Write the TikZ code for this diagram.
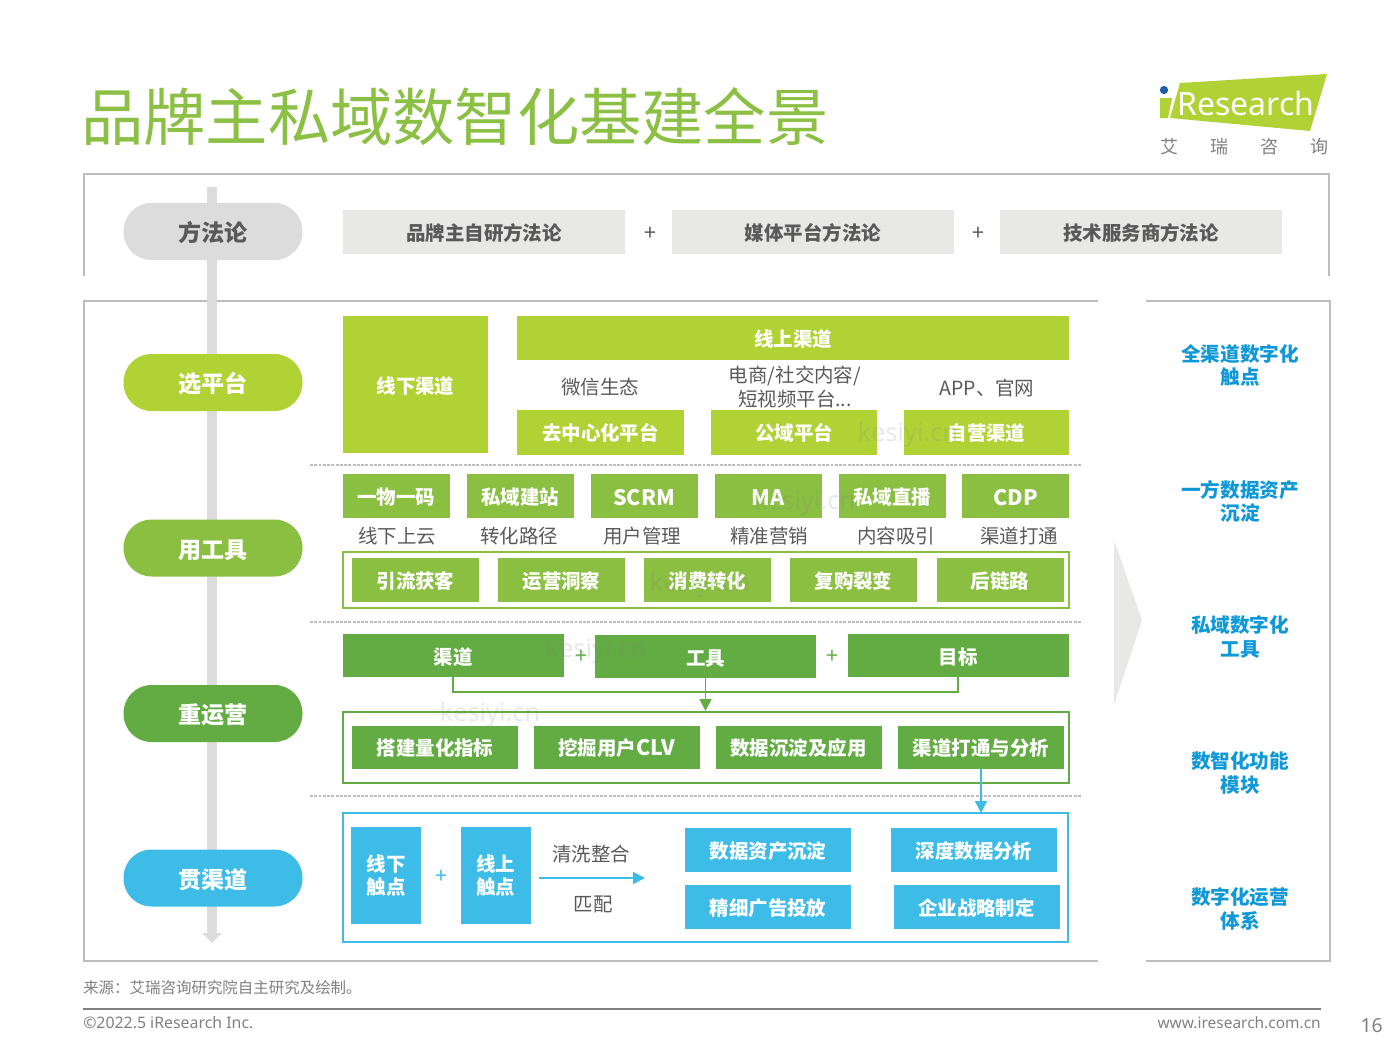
\documentclass[tikz,border=0pt]{standalone}
\usepackage{fontspec}
\setmainfont{Noto Sans CJK SC}
\newfontfamily\latinfont{Noto Sans}
\usetikzlibrary{arrows.meta}
\definecolor{limegreen}{HTML}{B0D235}
\definecolor{midgreen}{HTML}{8ABF41}
\definecolor{deepgreen}{HTML}{62AC43}
\definecolor{skyblue}{HTML}{3DBCE8}
\definecolor{textblue}{HTML}{0F98D8}
\definecolor{titlegreen}{HTML}{8CC045}
\definecolor{framegray}{HTML}{BDBDBD}
\definecolor{boxgray}{HTML}{E8E8E7}
\definecolor{railgray}{HTML}{DCDCDC}
\definecolor{labelgray}{HTML}{595959}
\definecolor{dotblue}{HTML}{1F5FA8}
\tikzset{
size/.style 2 args={minimum width=#1*0.75pt, minimum height=#2*0.75pt}, % sizes in pixels of the reference
box/.style={inner sep=0pt, align=center, text=white, font=\fontsize{14.6}{17}\selectfont\bfseries, execute at begin node={\rule{0pt}{1em}}},
limebox/.style={box, fill=limegreen},
midbox/.style={box, fill=midgreen},
deepbox/.style={box, fill=deepgreen},
bluebox/.style={box, fill=skyblue},
graybox/.style={box, fill=boxgray, text=labelgray, size={282}{44}},
pill/.style={box, font=\fontsize{17.3}{20}\selectfont\bfseries, rounded corners=21pt, size={179}{57}},
note/.style={inner sep=0pt, align=center, text=labelgray, font=\fontsize{14.6}{17.5}\selectfont},
goal/.style={inner sep=0pt, align=center, text=textblue, font=\fontsize{14.7}{17.3}\selectfont\bfseries},
foot/.style={inner sep=0pt, text=gray, font=\fontsize{11.6}{14}\selectfont},
logochar/.style={foot, font=\fontsize{13.5}{15}\selectfont},
frameline/.style={draw=framegray, line width=1.6pt},
cutline/.style={draw=framegray, line width=0.8pt, dash pattern=on 2.2pt off 1pt},
plus/.style={inner sep=0pt, font=\fontsize{16}{18}\selectfont},
wmark/.style={inner sep=0pt, text=gray, opacity=0.18, font=\latinfont\fontsize{19}{22}\selectfont},
}
\newcommand{\latinlabel}[1]{{\fontsize{16}{17}\selectfont #1}}
\begin{document}
\begin{tikzpicture}[x=0.75pt, y=-0.75pt]
    \useasboundingbox (0,0) rectangle (1400,1050);

    % title and logo
    \node[inner sep=0pt, anchor=west, text=titlegreen, font=\fontsize{46.7}{50}\selectfont] (title) at (81,117) {品牌主私域数智化基建全景};
    \fill[limegreen] (1180,83) -- (1327,74) -- (1310,131) -- (1170,118) -- cycle;
    \fill[limegreen] (1160,98) -- (1172,98) -- (1168,118) -- (1160,118) -- cycle;
    \fill[dotblue] (1164,90) circle (3.1pt);
    \node[inner sep=0pt, text=white, font=\latinfont\fontsize{24}{26}\selectfont] (logo) at (1246,103) {Research};
    \node[logochar] (ai) at (1169,147) {艾};
    \node[logochar] (rui) at (1219,147) {瑞};
    \node[logochar] (zi) at (1269,147) {咨};
    \node[logochar] (xun) at (1319,147) {询};

    % outer frames
    \draw[frameline] (84,276) -- (84,174) -- (1329,174) -- (1329,276);
    \draw[frameline] (1098,301) -- (84,301) -- (84,961) -- (1098,961);
    \draw[frameline] (1146,301) -- (1330,301) -- (1330,961) -- (1146,961);
    \coordinate (railtop) at (212,187);
    \coordinate (railend) at (212,943);
    \draw[railgray, line width=7.5pt, -{Triangle[width=14.5pt, length=7.5pt]}] (railtop) -- (railend);
    \fill[boxgray] (1114,540) -- (1142,620) -- (1114,705) -- cycle;
    \draw[cutline] (310,465) -- (1082,465);
    \draw[cutline] (310,622) -- (1082,622);
    \draw[cutline] (310,796) -- (1082,796);

    % left column
    \node[pill, fill=railgray, text=labelgray] (method) at (213,231.5) {方法论};
    \node[pill, fill=limegreen] (choose) at (213,382.5) {选平台};
    \node[pill, fill=midgreen] (tooling) at (213,548) {用工具};
    \node[pill, fill=deepgreen] (operate) at (213,713.5) {重运营};
    \node[pill, fill=skyblue] (connect) at (213,878) {贯渠道};

    % method row
    \node[graybox] (brand) at (484,232) {品牌主自研方法论};
    \node[graybox] (media) at (813,232) {媒体平台方法论};
    \node[graybox] (tech) at (1141,232) {技术服务商方法论};
    \node[plus, text=labelgray] (plusa) at (650,234) {+};
    \node[plus, text=labelgray] (plusb) at (978,234) {+};

    % platforms
    \node[limebox, size={145}{137}] (offline) at (415.5,384.5) {线下渠道};
    \node[limebox, size={552}{44}] (online) at (793,338) {线上渠道};
    \node[limebox, size={167}{45}] (decen) at (600.5,432) {去中心化平台};
    \node[limebox, size={166}{45}] (public) at (794,432) {公域平台};
    \node[limebox, size={165}{45}] (own) at (986.5,432) {自营渠道};
    \node[note] (wechat) at (600,387) {微信生态};
    \node[note] (social) at (795,387) {电商/社交内容/\\短视频平台...};
    \node[note] (app) at (987,388) {APP、官网};

    % tools
    \node[midbox, size={107}{44}] (code) at (396,496) {一物一码};
    \node[midbox, size={107}{44}] (site) at (520,496) {私域建站};
    \node[midbox, size={107}{44}] (scrm) at (644,496) {\latinlabel{SCRM}};
    \node[midbox, size={107}{44}] (ma) at (768,496) {\latinlabel{MA}};
    \node[midbox, size={107}{44}] (live) at (892,496) {私域直播};
    \node[midbox, size={107}{44}] (cdp) at (1015.5,496) {\latinlabel{CDP}};
    \node[note] (cloud) at (397,536) {线下上云};
    \node[note] (path) at (519,536) {转化路径};
    \node[note] (users) at (642,536) {用户管理};
    \node[note] (precise) at (769,536) {精准营销};
    \node[note] (content) at (896,536) {内容吸引};
    \node[note] (link) at (1019,536) {渠道打通};
    \draw[midgreen, line width=2pt] (343,552) rectangle (1069,608);
    \node[midbox, size={127}{44}] (traffic) at (415.5,580) {引流获客};
    \node[midbox, size={127}{44}] (insight) at (561.5,580) {运营洞察};
    \node[midbox, size={127}{44}] (convert) at (707.5,580) {消费转化};
    \node[midbox, size={127}{44}] (repeat) at (853.5,580) {复购裂变};
    \node[midbox, size={127}{44}] (after) at (1000,580) {后链路};

    % operations
    \node[deepbox, size={221}{43}] (channel) at (453,655.5) {渠道};
    \node[deepbox, size={221}{43}] (tool) at (705.5,656.5) {工具};
    \node[deepbox, size={221}{43}] (target) at (958,655.5) {目标};
    \node[plus, text=deepgreen] (plusc) at (581,657) {+};
    \node[plus, text=deepgreen] (plusd) at (832,657) {+};
    \draw[deepgreen, line width=1.8pt] (343,712) rectangle (1069,783);
    \node[deepbox, size={166}{43}] (metric) at (435,747) {搭建量化指标};
    \node[deepbox, size={166}{43}] (clv) at (616.5,747) {挖掘用户\latinlabel{CLV}};
    \node[deepbox, size={166}{43}] (data) at (798.5,747) {数据沉淀及应用};
    \node[deepbox, size={166}{43}] (analysis) at (981,747) {渠道打通与分析};
    \coordinate (opsin) at (705.5,711);
    \coordinate (linkin) at (981,813);
    \draw[deepgreen, line width=1.2pt] (channel.south) |- (705.5,692) -| (target.south);
    \draw[deepgreen, line width=1.2pt, -{Triangle[width=9pt, length=9pt]}] (tool.south) -- (opsin);
    \draw[skyblue, line width=1.2pt, -{Triangle[width=9pt, length=9pt]}] (analysis.south) -- (linkin);

    % channels
    \draw[skyblue, line width=2pt] (343,813) rectangle (1068,942);
    \node[bluebox, size={70}{97}] (offpoint) at (386,875.5) {线下\\触点};
    \node[bluebox, size={70}{97}] (onpoint) at (495.5,875.5) {线上\\触点};
    \node[plus, text=skyblue] (pluse) at (441,877) {+};
    \node[note] (wash) at (591,854) {清洗整合};
    \node[note] (match) at (593,904) {匹配};
    \coordinate (washfrom) at (539,878);
    \coordinate (washto) at (645,878);
    \draw[skyblue, line width=1.2pt, -{Triangle[width=9pt, length=9pt]}] (washfrom) -- (washto);
    \node[bluebox, size={166}{44}] (assets) at (768,850) {数据资产沉淀};
    \node[bluebox, size={166}{44}] (deep) at (974,850) {深度数据分析};
    \node[bluebox, size={166}{44}] (ads) at (768,907) {精细广告投放};
    \node[bluebox, size={166}{44}] (strategy) at (976.5,907) {企业战略制定};

    % right column
    \node[goal] (goala) at (1240,365) {全渠道数字化\\触点};
    \node[goal] (goalb) at (1240,501) {一方数据资产\\沉淀};
    \node[goal] (goalc) at (1240,637) {私域数字化\\工具};
    \node[goal] (goald) at (1240,773) {数智化功能\\模块};
    \node[goal] (goale) at (1240,909) {数字化运营\\体系};

    % watermarks
    \node[wmark] (wma) at (908,435) {kesiyi.cn};
    \node[wmark] (wmb) at (805,503) {kesiyi.cn};
    \node[wmark] (wmc) at (700,585) {kesiyi.cn};
    \node[wmark] (wmd) at (596,651) {kesiyi.cn};
    \node[wmark] (wme) at (490,715) {kesiyi.cn};

    % footer
    \node[foot, anchor=west] (source) at (83,988) {来源：艾瑞咨询研究院自主研究及绘制。};
    \draw[gray, line width=1.5pt] (83,1009) -- (1321,1009);
    \node[foot, anchor=west, font=\latinfont\fontsize{11.9}{14}\selectfont] (copy) at (83,1023) {©2022.5 iResearch Inc.};
    \node[foot, anchor=east, font=\latinfont\fontsize{11.6}{14}\selectfont] (web) at (1321,1023) {www.iresearch.com.cn};
    \node[foot, anchor=east, font=\latinfont\fontsize{14.5}{16}\selectfont] (page) at (1383,1026) {16};
\end{tikzpicture}
\end{document}
